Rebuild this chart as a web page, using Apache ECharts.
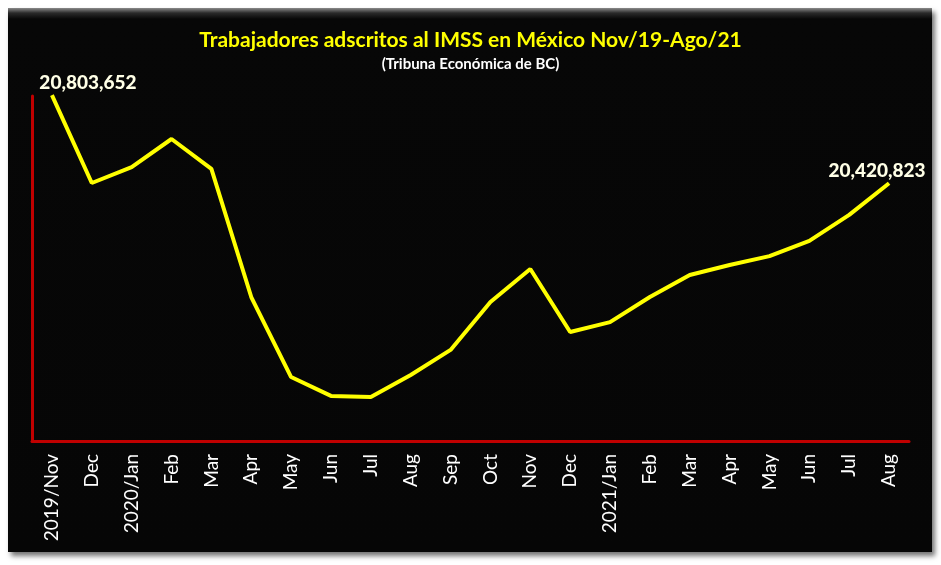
<!DOCTYPE html>
<html>
<head>
<meta charset="utf-8">
<script src="https://cdn.jsdelivr.net/npm/echarts@6/dist/echarts.min.js"></script>
<style>
  html, body { margin: 0; padding: 0; background: #ffffff; }
  #frame {
    position: absolute; left: 8px; top: 8px; width: 924px; height: 544px;
    background: linear-gradient(to bottom, #8a8a8a 0px, #2a2a2a 5px, #070707 11px, #060606 100%);
    box-shadow: 3px 4px 5px rgba(0,0,0,0.55);
  }
  #chart { position: absolute; left: 0; top: 0; width: 941px; height: 565px; }
</style>
</head>
<body>
<div id="frame"></div>
<div id="chart"></div>
<script>
const titleText = 'Trabajadores adscritos al IMSS en México Nov/19-Ago/21';
const subtitleText = '(Tribuna Económica de BC)';
const months = ['2019/Nov','Dec','2020/Jan','Feb','Mar','Apr','May','Jun','Jul','Aug','Sep','Oct',
                'Nov','Dec','2021/Jan','Feb','Mar','Apr','May','Jun','Jul','Aug'];
const workers = [20803652, 20421700, 20491000, 20613000, 20483000, 19926000, 19578000, 19496000,
                 19491000, 19587000, 19696000, 19904000, 20048000, 19774000, 19817000, 19926000,
                 20022000, 20065000, 20104000, 20170000, 20283000, 20420823];
const labelledIdx = [0, workers.length - 1];
const yMin = 19300000;
const yMax = 20800000;

function fmt(v) { return String(v).replace(/\B(?=(\d{3})+(?!\d))/g, ','); }

const seriesData = workers.map((v, i) => {
  if (labelledIdx.indexOf(i) < 0) return v;
  return {
    value: v,
    label: {
      show: true,
      position: 'top',
      distance: 3,
      offset: i === 0 ? [36, 0] : [-12, 0],
      formatter: p => fmt(p.value),
      color: '#FFFFE6',
      fontFamily: 'Lato',
      fontWeight: 900,
      fontSize: 19
    }
  };
});

const chart = echarts.init(document.getElementById('chart'), null, { renderer: 'canvas' });
chart.setOption({
  backgroundColor: 'transparent',
  animation: false,
  title: [
    { text: titleText, left: 'center', top: 25,
      textStyle: { color: '#FFFF00', fontFamily: 'Lato', fontWeight: 'bold', fontSize: 21 } },
    { text: subtitleText, left: 'center', top: 52,
      textStyle: { color: '#FFFFFF', fontFamily: 'Lato', fontWeight: 'bold', fontSize: 15 } }
  ],
  grid: { left: 32, right: 32, top: 96, bottom: 124, containLabel: false },
  xAxis: {
    type: 'category',
    data: months,
    boundaryGap: true,
    axisLine: { show: true, lineStyle: { color: '#C00000', width: 3 } },
    axisTick: { show: false },
    axisLabel: { interval: 0, rotate: 90, margin: 13, color: '#FFFFFF',
                 fontFamily: 'Lato', fontSize: 19 },
    splitLine: { show: false }
  },
  yAxis: {
    type: 'value',
    min: yMin,
    max: yMax,
    axisLine: { show: true, lineStyle: { color: '#C00000', width: 3 } },
    axisTick: { show: false },
    axisLabel: { show: false },
    splitLine: { show: false }
  },
  series: [{
    type: 'line',
    data: seriesData,
    showSymbol: true,
    symbol: 'circle',
    symbolSize: 0,
    lineStyle: { color: '#FFFF00', width: 4 },
    itemStyle: { color: '#FFFF00' },
    clip: false
  }]
});
</script>
</body>
</html>
